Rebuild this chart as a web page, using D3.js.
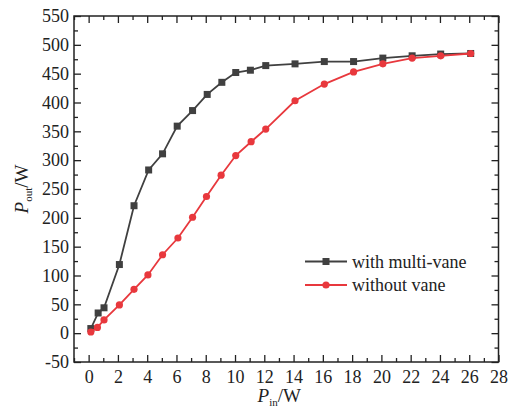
<!DOCTYPE html>
<html>
<head>
<meta charset="utf-8">
<script src="https://cdn.jsdelivr.net/npm/d3@7/dist/d3.min.js"></script>
<style>
  body { margin: 0; background: #fff; }
  svg, svg text { font-family: "Liberation Serif", "Times New Roman", Times, "DejaVu Serif", serif; }
  .axis text { font-size: 18px; fill: #222; }
  .axis line { stroke: #222; stroke-width: 1.3px; }
  .axis path { display: none; }
</style>
</head>
<body>
<div id="chart"></div>
<script>
// values
const multiX = [0.15, 0.65, 1.05, 2.1, 3.1, 4.1, 5.05, 6.05, 7.1, 8.1, 9.1, 10.05, 11.05, 12.1, 14.1, 16.1, 18.1, 20.1, 22.1, 24.05, 26.1];
const multiY = [8, 35, 44, 119, 221, 283, 311, 359, 386, 414, 435, 452, 456, 464, 467, 471, 471, 477, 481, 484, 485];
const noVaneX = [0.15, 0.6, 1.05, 2.1, 3.1, 4.05, 5.05, 6.1, 7.1, 8.05, 9.05, 10.05, 11.1, 12.1, 14.1, 16.1, 18.1, 20.1, 22.1, 24.05, 26.1];
const noVaneY = [2, 10, 23, 49, 76, 101, 136, 165, 201, 237, 274, 308, 332, 354, 403, 432, 453, 467, 477, 481, 485];
const xTicks = d3.range(0, 29, 2);
const yTicks = d3.range(-50, 551, 50);
const seriesNames = ["with multi-vane", "without vane"];

const W = 509, H = 414;
const margin = {top: 16, right: 10.5, bottom: 52, left: 74};
const iw = W - margin.left - margin.right,
    ih = H - margin.top - margin.bottom;

const black = "#404040", red = "#e8383d";
const serif = '"Liberation Serif", "Times New Roman", Times, "DejaVu Serif", serif';
const plain = d => String(d); // keeps "-50" with a hyphen like the original

const svg = d3.select("#chart").append("svg")
    .attr("width", W)
    .attr("height", H)
    .attr("font-family", serif);

const g = svg.append("g")
    .attr("transform", "translate(" + margin.left + "," + margin.top + ")");

const x = d3.scaleLinear().domain([-1, 28]).range([0, iw]);
const y = d3.scaleLinear().domain([-50, 550]).range([ih, 0]);

// ticks point inward on all four sides
const xMinor = d3.range(-1, 29, 1).filter(d => d % 2 !== 0);
const yMinor = d3.range(-25, 550, 50);

function addAxis(axis, tx, ty) {
    let a = g.append("g").attr("class", "axis")
        .attr("transform", "translate(" + tx + "," + ty + ")")
        .call(axis);
    a.attr("font-family", serif).attr("font-size", null);
    return a;
}

addAxis(d3.axisBottom(x).tickValues(xTicks).tickFormat(plain).tickSize(-7).tickPadding(8).tickSizeOuter(0), 0, ih);
addAxis(d3.axisBottom(x).tickValues(xMinor).tickSize(-4).tickFormat("").tickSizeOuter(0), 0, ih);
addAxis(d3.axisTop(x).tickValues(xTicks).tickSize(-7).tickFormat("").tickSizeOuter(0), 0, 0);
addAxis(d3.axisTop(x).tickValues(xMinor).tickSize(-4).tickFormat("").tickSizeOuter(0), 0, 0);

addAxis(d3.axisLeft(y).tickValues(yTicks).tickFormat(plain).tickSize(-7).tickPadding(5).tickSizeOuter(0), 0, 0);
addAxis(d3.axisLeft(y).tickValues(yMinor).tickSize(-4).tickFormat("").tickSizeOuter(0), 0, 0);
addAxis(d3.axisRight(y).tickValues(yTicks).tickSize(-7).tickFormat("").tickSizeOuter(0), iw, 0);
addAxis(d3.axisRight(y).tickValues(yMinor).tickSize(-4).tickFormat("").tickSizeOuter(0), iw, 0);

g.append("rect")
    .attr("width", iw)
    .attr("height", ih)
    .style("fill", "none")
    .style("stroke", "#222")
    .style("stroke-width", "1.5px");

const line = d3.line()
    .x(d => x(d[0]))
    .y(d => y(d[1]));

const multi = multiX.map((v, i) => [v, multiY[i]]);
const noVane = noVaneX.map((v, i) => [v, noVaneY[i]]);

g.append("path")
    .datum(multi)
    .attr("d", line)
    .style("fill", "none")
    .style("stroke", black)
    .style("stroke-width", "1.8px");

g.selectAll("rect.sq")
    .data(multi)
    .enter().append("rect")
    .attr("class", "sq")
    .attr("x", d => x(d[0]) - 3.5)
    .attr("y", d => y(d[1]) - 3.5)
    .attr("width", 7)
    .attr("height", 7)
    .style("fill", black);

g.append("path")
    .datum(noVane)
    .attr("d", line)
    .style("fill", "none")
    .style("stroke", red)
    .style("stroke-width", "1.8px");

g.selectAll("circle.dot")
    .data(noVane)
    .enter().append("circle")
    .attr("class", "dot")
    .attr("cx", d => x(d[0]))
    .attr("cy", d => y(d[1]))
    .attr("r", 3.6)
    .style("fill", red);

// legend
const legend = svg.append("g").attr("transform", "translate(305,261.5)");
seriesNames.forEach((name, i) => {
    let row = legend.append("g").attr("transform", "translate(0," + (i * 23.5) + ")");
    let c = i === 0 ? black : red;
    row.append("line")
        .attr("x1", 0).attr("x2", 42)
        .style("stroke", c)
        .style("stroke-width", "1.8px");
    if (i === 0) {
        row.append("rect")
            .attr("x", 17.5).attr("y", -3.5)
            .attr("width", 7).attr("height", 7)
            .style("fill", c);
    } else {
        row.append("circle")
            .attr("cx", 21).attr("r", 3.6)
            .style("fill", c);
    }
    row.append("text")
        .attr("x", 47)
        .attr("y", 6)
        .style("font-size", "18px")
        .style("fill", "#222")
        .text(name);
});

// axis titles
const xt = svg.append("text")
    .attr("x", margin.left + iw / 2 - 7)
    .attr("y", 402)
    .attr("text-anchor", "middle")
    .style("font-size", "19px")
    .style("fill", "#222");
xt.append("tspan").style("font-style", "italic").text("P");
xt.append("tspan").attr("dy", 4).style("font-size", "11px").text("in");
xt.append("tspan").attr("dy", -4).text("/W");

const yt = svg.append("text")
    .attr("transform", "translate(28," + (margin.top + ih / 2) + ") rotate(-90)")
    .attr("text-anchor", "middle")
    .style("font-size", "19px")
    .style("fill", "#222");
yt.append("tspan").style("font-style", "italic").text("P");
yt.append("tspan").attr("dy", 4).style("font-size", "11px").text("out");
yt.append("tspan").attr("dy", -4).text("/W");
</script>
</body>
</html>
